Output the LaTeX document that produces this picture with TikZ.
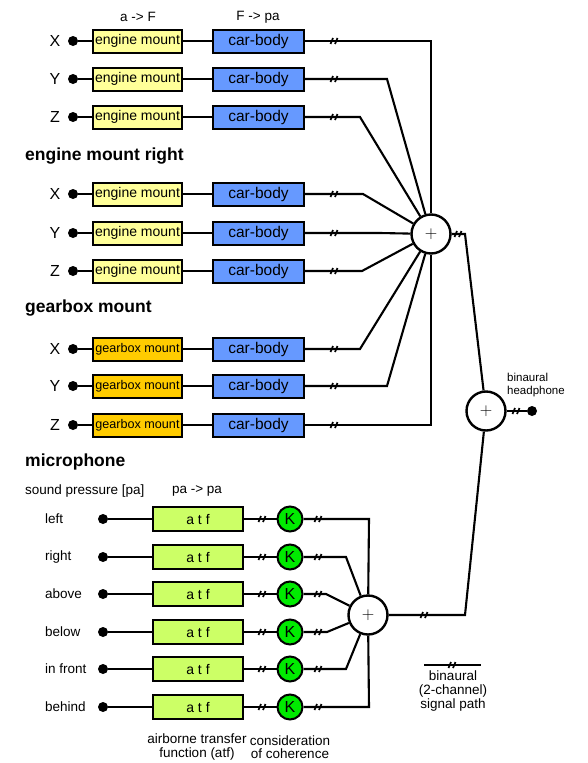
\documentclass[tikz,border=0pt]{standalone}
\usepackage{fontspec}
\setmainfont{Liberation Sans}
\usetikzlibrary{calc}

\definecolor{mountyellow}{RGB}{255,255,153}
\definecolor{gearorange}{RGB}{255,204,0}
\definecolor{bodyblue}{RGB}{102,153,255}
\definecolor{atfgreen}{RGB}{204,255,102}
\definecolor{kgreen}{RGB}{0,235,0}

\tikzset{
  sig/.style={line width=2.1pt},
  txt/.style={font=\fontsize{13.5}{14}\selectfont, inner sep=0pt},
  heading/.style={font=\fontsize{17.5}{18}\selectfont\bfseries, anchor=west, inner sep=0pt},
  axislab/.style={font=\fontsize{16}{16}\selectfont, inner sep=0pt},
  pin/.style={circle, fill=black, inner sep=0pt, minimum size=10pt},
  engmount/.style={draw, line width=2pt, fill=mountyellow, minimum width=89pt, minimum height=23pt, inner sep=0pt, font=\fontsize{14}{14}\selectfont},
  gearmount/.style={engmount, fill=gearorange, font=\fontsize{12.6}{13}\selectfont},
  bodybox/.style={draw, line width=2pt, fill=bodyblue, minimum width=91pt, minimum height=23pt, inner sep=0pt, font=\fontsize{15.5}{16}\selectfont},
  atfbox/.style={draw, line width=2pt, fill=atfgreen, minimum width=90pt, minimum height=24pt, inner sep=0pt, font=\fontsize{14}{14}\selectfont},
  kcirc/.style={circle, draw, line width=2pt, fill=kgreen, minimum size=25pt, inner sep=0pt, font=\fontsize{16}{16}\selectfont},
  sumnode/.style={circle, draw, line width=2.4pt, fill=white, minimum size=39pt, inner sep=0pt, font=\fontsize{18}{18}\selectfont},
  busmark/.pic={\draw[line width=1.7pt] (-3.5,3) -- (-1,-3) (1,3) -- (3.5,-3);}
}

\begin{document}
\begin{tikzpicture}[x=1pt, y=-1pt]
  \useasboundingbox (0,0) rectangle (587,763);

  % headers
  \node[txt] (hdrAF) at (138,17) {a -> F};
  \node[txt] (hdrFP) at (258,17) {F -> pa};
  \node[heading] (hdEMR) at (25,156) {engine mount right};
  \node[heading] (hdGM) at (25,308) {gearbox mount};
  \node[heading] (hdMic) at (25,462) {microphone};

  % structure-borne paths
  \node[sumnode] (sumA) at (431,234) {$+$};
  \foreach \y/\lab/\mtype/\mtext/\cx [count=\i] in {41/X/engmount/engine mount/431,79/Y/engmount/engine mount/387,117/Z/engmount/engine mount/360,194/X/engmount/engine mount/363,233/Y/engmount/engine mount/380,271/Z/engmount/engine mount/362,349/X/gearmount/gearbox mount/360,386/Y/gearmount/gearbox mount/387,425/Z/gearmount/gearbox mount/431} {
    \node[axislab] (ax\i) at (55,\y) {\lab};
    \node[pin] (pt\i) at (73,\y) {};
    \node[\mtype] (mt\i) at (137.5,\y) {\mtext};
    \node[bodybox] (cb\i) at (258.5,\y) {car-body};
    \draw[sig] (pt\i) -- (mt\i) -- (cb\i);
    \draw[sig] (cb\i.east) -- (\cx,\y) -- (sumA);
    \pic at (334,\y) {busmark};
  }

  % airborne paths
  \node[txt, anchor=west] (hdrSP) at (25,491) {sound pressure [pa]};
  \node[txt] (hdrPP) at (197,491) {pa -> pa};
  \node[sumnode] (sumC) at (368,615) {$+$};
  \foreach \y/\lab/\cx [count=\i] in {519/left/369,557/right/346,594/above/326,632/below/327,669/in front/346,707/behind/369} {
    \node[txt, anchor=west] (dir\i) at (45,\y) {\lab};
    \node[pin] (mp\i) at (103,\y) {};
    \node[atfbox] (atf\i) at (198,\y) {a t f};
    \node[kcirc] (k\i) at (290,\y) {K};
    \draw[sig] (mp\i) -- (atf\i) -- (k\i);
    \draw[sig] (k\i) -- (\cx,\y) -- (sumC);
    \pic at (262,\y) {busmark};
    \pic at (318,\y) {busmark};
  }
  \node[font=\fontsize{13.5}{13.5}\selectfont, inner sep=0pt, align=center] (capATF) at (197,747) {airborne transfer\\function (atf)};
  \node[font=\fontsize{13.5}{13.5}\selectfont, inner sep=0pt, align=center] (capK) at (290,747) {consideration\\of coherence};

  % binaural sum
  \node[sumnode] (sumB) at (486,411) {$+$};
  \coordinate (jA) at (465,234);
  \coordinate (jC) at (465,615);
  \node[pin] (phone) at (532,411) {};
  \draw[sig] (sumA) -- (jA) -- (sumB);
  \draw[sig] (sumC) -- (jC) -- (sumB);
  \draw[sig] (sumB) -- (phone);
  \pic at (458,234) {busmark};
  \pic at (424,615) {busmark};
  \pic at (516,411) {busmark};
  \node[font=\fontsize{11.5}{12.5}\selectfont, align=left, anchor=west, inner sep=0pt] (hpLab) at (507,385) {binaural\\headphone};

  % legend
  \coordinate (lgA) at (424,665);
  \coordinate (lgB) at (481,665);
  \draw[sig] (lgA) -- (lgB);
  \pic at (452,665) {busmark};
  \node[txt, align=center] (lgTxt) at (453,691) {binaural\\(2-channel)\\signal path};
\end{tikzpicture}
\end{document}
